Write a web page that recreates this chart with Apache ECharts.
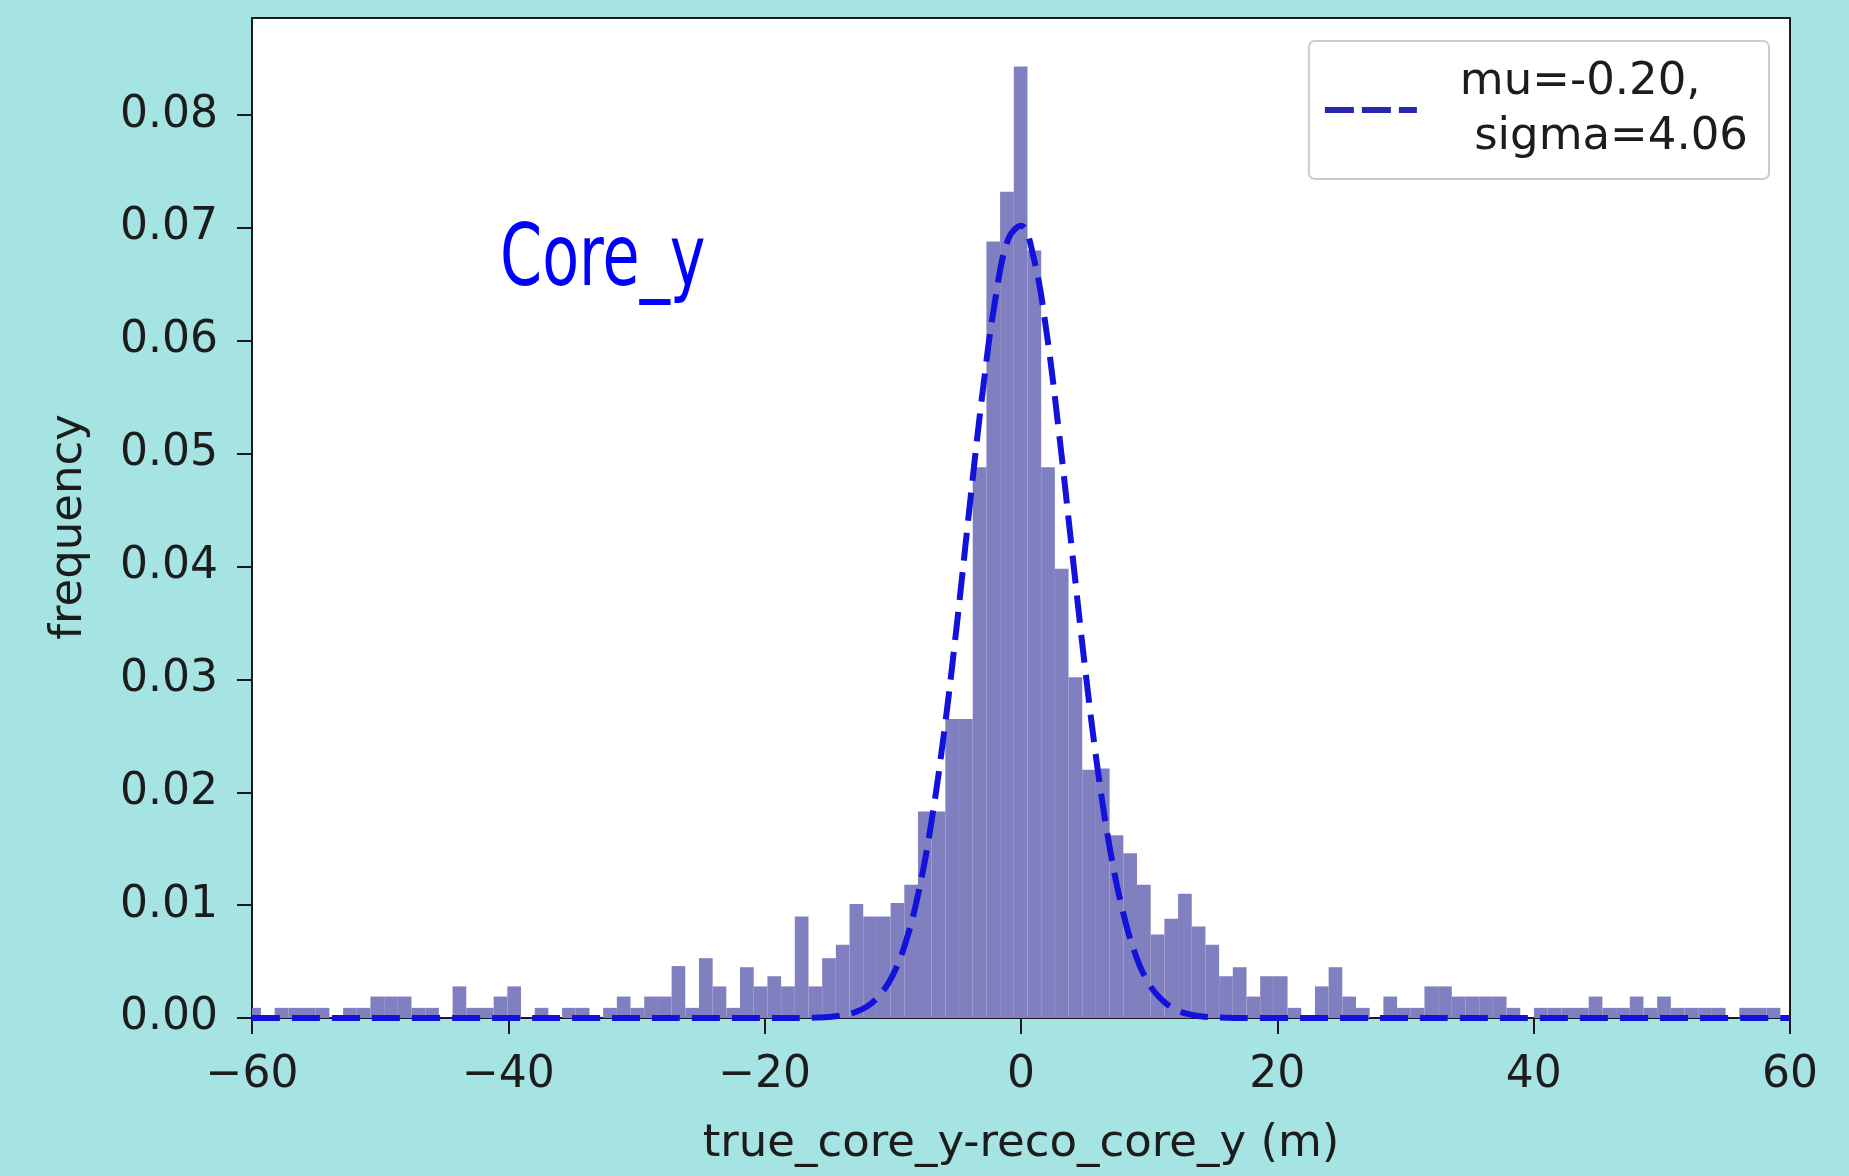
<!DOCTYPE html>
<html><head><meta charset="utf-8">
<script src="https://cdn.jsdelivr.net/npm/echarts@6/dist/echarts.min.js"></script>
<style>html,body{margin:0;padding:0;background:#a6e3e3;}#c{width:1849px;height:1176px;}</style>
</head><body><div id="c"></div>
<script>
// histogram: bins start at binStart, each binWidth wide (density values)
const binStart = -60.37;
const binWidth = 1.068;
const binHeights = [
  0.0009, 0, 0.0009, 0.0009, 0.0009, 0.0009, 0, 0.0009, 0.0009, 0.0019,
  0.0019, 0.0019, 0.0009, 0.0009, 0, 0.0028, 0.0009, 0.0009, 0.0019, 0.0028,
  0, 0.0009, 0, 0.0009, 0.0009, 0, 0.0009, 0.0019, 0.0009, 0.0019,
  0.0019, 0.0046, 0.0009, 0.0053, 0.0028, 0.0009, 0.0045, 0.0028, 0.0037, 0.0028,
  0.0090, 0.0028, 0.0053, 0.0065, 0.0101, 0.0090, 0.0090, 0.0102, 0.0118, 0.0183,
  0.0183, 0.0265, 0.0265, 0.0488, 0.0688, 0.0732, 0.0843, 0.0680, 0.0488, 0.0398,
  0.0302, 0.0220, 0.0221, 0.0162, 0.0146, 0.0118, 0.0074, 0.0088, 0.0110, 0.0081,
  0.0065, 0.0037, 0.0045, 0.0019, 0.0037, 0.0037, 0.0009, 0, 0.0028, 0.0045,
  0.0019, 0.0009, 0, 0.0019, 0.0009, 0.0009, 0.0028, 0.0028, 0.0019, 0.0019,
  0.0019, 0.0019, 0.0009, 0, 0.0009, 0.0009, 0.0009, 0.0009, 0.0019, 0.0009,
  0.0009, 0.0019, 0.0009, 0.0019, 0.0009, 0.0009, 0.0009, 0.0009, 0, 0.0009,
  0.0009, 0.0009, 0
];
// fitted gaussian curve
const curveX = [-60,-40,-20,-19,-18,-17,-16,-15,-14,-13,-12,-11,-10,-9,-8,-7,-6,-5,-4,-3,-2,-1,0,1,2,3,4,5,6,7,8,9,10,11,12,13,14,15,16,17,18,19,20,40,60];
const curveY = [0,0,0,0,0,0.00001,0.00004,0.00009,0.00022,0.00049,0.00103,0.00205,0.0038,0.0067,0.0111,0.0173,0.0253,0.0349,0.0454,0.0554,0.0637,0.0690,0.0702,0.0673,0.0607,0.0515,0.0412,0.0310,0.0219,0.0146,0.0092,0.0054,0.0030,0.0016,0.00077,0.00036,0.00015,0.00006,0.00002,0,0,0,0,0,0];
const yTicks = [0, 0.01, 0.02, 0.03, 0.04, 0.05, 0.06, 0.07, 0.08];
const xTicks = [-60, -40, -20, 0, 20, 40, 60];
const fitName = 'mu=-0.20,\n sigma=4.06';
const annotation = 'Core_y';
const xTitle = 'true_core_y-reco_core_y (m)';
const yTitle = 'frequency';

const FONT = 'DejaVu Sans';
const TXT = '#1c1c1c';
const CURVE = '#1212dc';

const histData = binHeights.map((h, i) => [binStart + i * binWidth, binStart + (i + 1) * binWidth, h]);
const curveData = curveX.map((x, i) => [x, curveY[i]]);

const chart = echarts.init(document.getElementById('c'), null, {renderer: 'canvas'});
chart.setOption({
  backgroundColor: '#a6e3e3',
  animation: false,
  grid: {left: 252, top: 18, width: 1538, height: 1000, show: true, backgroundColor: '#ffffff', borderColor: '#1a1a1a', borderWidth: 2},
  xAxis: {
    type: 'value', min: -60, max: 60, interval: 20,
    name: xTitle, nameLocation: 'middle', nameGap: 104,
    nameTextStyle: {fontFamily: FONT, fontSize: 45, color: TXT},
    axisLine: {show: true, onZero: false, lineStyle: {color: '#1a1a1a', width: 2}},
    axisTick: {show: true, length: 16, lineStyle: {color: '#1a1a1a', width: 2}, customValues: xTicks},
    axisLabel: {fontFamily: FONT, fontSize: 44, color: TXT, margin: 36, customValues: xTicks,
      formatter: v => (v < 0 ? '\u2212' + Math.abs(v) : String(v))},
    splitLine: {show: false}
  },
  yAxis: {
    type: 'value', min: 0, max: 0.0886,
    name: yTitle, nameLocation: 'middle', nameGap: 160, nameRotate: 90,
    nameTextStyle: {fontFamily: FONT, fontSize: 45, color: TXT, padding: [0, 18, 0, 0]},
    axisLine: {show: true, onZero: false, lineStyle: {color: '#1a1a1a', width: 2}},
    axisTick: {show: true, length: 15, lineStyle: {color: '#1a1a1a', width: 2}, customValues: yTicks},
    axisLabel: {fontFamily: FONT, fontSize: 44, color: TXT, margin: 34, customValues: yTicks,
      formatter: v => v.toFixed(2)},
    splitLine: {show: false}
  },
  legend: {
    data: [fitName], right: 80, top: 41, orient: 'vertical',
    padding: [14, 21, 14, 16],
    backgroundColor: 'rgba(255,255,255,0.85)', borderColor: '#cccccc', borderWidth: 2, borderRadius: 6,
    icon: 'path://M0,0H29V6H0ZM37,0H66V6H37ZM74,0H92V6H74Z',
    itemWidth: 92, itemHeight: 6,
    itemStyle: {color: '#2626b0', borderWidth: 0},
    textStyle: {fontFamily: FONT, fontSize: 45, color: TXT, lineHeight: 55, padding: [0, 0, 0, 38]}
  },
  graphic: [{
    type: 'text', x: 500, y: 263, scaleX: 0.71, z: 50,
    style: {text: annotation, font: '85px "DejaVu Sans"', fill: '#0000ff', align: 'left', verticalAlign: 'middle', textAlign: 'left', textVerticalAlign: 'middle'}
  }],
  series: [
    {
      type: 'custom', name: 'hist', z: 2,
      encode: {x: [0, 1], y: 2},
      data: histData,
      renderItem: function (params, api) {
        const x0 = api.value(0), x1 = api.value(1), v = api.value(2);
        const pTop = api.coord([x0, v]);
        const pBot = api.coord([x1, 0]);
        const cs = params.coordSys;
        const rect = echarts.graphic.clipRectByRect(
          {x: pTop[0], y: pTop[1], width: pBot[0] - pTop[0], height: pBot[1] - pTop[1]},
          {x: cs.x, y: cs.y, width: cs.width, height: cs.height});
        if (!rect) return;
        return {type: 'rect', shape: rect, style: {fill: '#8080c0'}};
      }
    },
    {
      type: 'line', name: fitName, z: 5,
      data: curveData, smooth: 0.4, symbol: 'none', showSymbol: false,
      lineStyle: {color: CURVE, width: 6, type: [28, 12]},
      itemStyle: {color: CURVE}
    }
  ]
});
</script></body></html>
